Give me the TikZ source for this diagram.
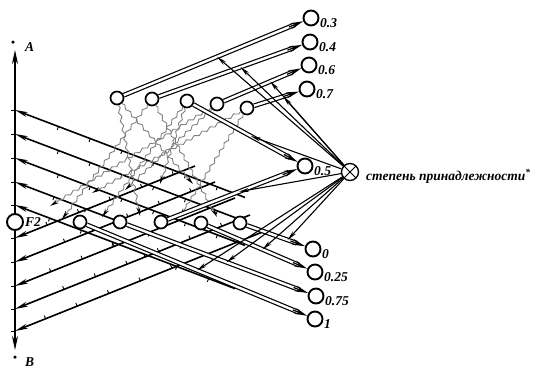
\documentclass[tikz,border=0pt]{standalone}
\usepackage{fontspec}
\setmainfont{Liberation Serif}
\usepackage{tikz}
\usetikzlibrary{arrows.meta,calc,decorations.pathmorphing,decorations.markings}

\begin{document}
\begin{tikzpicture}[x=1pt, y=-1pt, every node/.style={font=\bfseries\itshape\fontsize{13.5}{15}\selectfont}]
    \tikzstyle{cell} = [circle, draw, fill=white, line width=1.7pt, minimum size=13pt, inner sep=0pt, path picture={\fill (path picture bounding box.center) circle (1pt);}]
    \tikzstyle{value} = [circle, draw, fill=white, line width=1.9pt, minimum size=15pt, inner sep=0pt]
    \tikzstyle{tag} = [anchor=west, inner sep=0pt]
    \tikzstyle{pipe} = [draw, double, double distance=2.4pt, line width=1.2pt, shorten >=9pt]
    \tikzstyle{pipetip} = [draw, line width=1.2pt, -{Stealth[length=13pt, width=6pt]}]
    \tikzstyle{ray} = [draw, line width=1.1pt, -{Stealth[length=10pt, width=4pt]}]
    \tikzstyle{wave} = [draw=black!50, line width=0.9pt, decorate, decoration={snake, amplitude=1.3pt, segment length=9pt, post length=9pt}, -{Stealth[black, length=9pt, width=4pt]}]
    \tikzstyle{hatchlow} = [draw, line width=1.6pt, -{Stealth[length=13pt, width=5pt]}, postaction={decorate, decoration={markings, mark=between positions 0.12 and 0.9 step 34pt with {\draw[-, line width=0.9pt] (0,0) -- (0,3.5pt);}}}]
    \tikzstyle{hatchhigh} = [draw, line width=1.6pt, -{Stealth[length=13pt, width=5pt]}, postaction={decorate, decoration={markings, mark=between positions 0.12 and 0.9 step 34pt with {\draw[-, line width=0.9pt] (0,0) -- (0,-3.5pt);}}}]
    \useasboundingbox (0,0) rectangle (540,370);

    \coordinate (top) at (15,50);
    \coordinate (bottom) at (15,350);
    \draw[line width=1.6pt, {Stealth[length=14pt, width=6pt]}-{Stealth[length=14pt, width=6pt]}] (bottom) -- (top);
    \node[circle, fill, inner sep=0pt, minimum size=3.5pt] (adot) at (13,42) {};
    \node[tag] (alab) at (25,47) {A};
    \node[circle, fill, inner sep=0pt, minimum size=3.5pt] (bdot) at (15,357) {};
    \node[tag] (blab) at (25,362) {B};

    \foreach \y/\xe [count=\i] in {110/245,134/245,158/245,182/240,205/235} {
        \coordinate (ua\i) at (15,\y);
        \coordinate (ue\i) at (\xe,{\y+0.38*(\xe-15)});
        \draw[hatchlow] (ue\i) -- (ua\i);
        \draw[line width=0.9pt] (11,\y) -- (15,\y);
    }
    \foreach \y/\xe [count=\i] in {238/195,262/215,286/235,309/250,331/265} {
        \coordinate (la\i) at (15,\y);
        \coordinate (le\i) at (\xe,{\y-0.4*(\xe-15)});
        \draw[hatchhigh] (le\i) -- (la\i);
        \draw[line width=0.9pt] (11,\y) -- (15,\y);
    }

    \node[circle, draw, fill=white, line width=1.9pt, minimum size=16pt, inner sep=0pt, path picture={\fill (path picture bounding box.center) circle (1pt);}] (f2) at (15,222) {};
    \node[tag] (f2lab) at (25,222) {F2};

    \foreach \x/\y [count=\i] in {117/98,152/99,187/101,217/104,247/108}
        \node[cell] (t\i) at (\x,\y) {};
    \foreach \x/\y [count=\i] in {80/222,120/222,161/222,201/223,240/223}
        \node[cell] (b\i) at (\x,\y) {};

    \foreach \name/\x/\y/\txt in {v03/311/18/0.3, v04/310/42/0.4, v06/309/65/0.6, v07/307/89/0.7, v05/305/166/0.5, v0/313/249/0, v025/315/272/0.25, v075/316/296/0.75, v1/315/319/1}
        \node[value, label={[tag, xshift=0.5pt, yshift=-5pt]east:\txt}] (\name) at (\x,\y) {};

    \node[circle, draw, fill=white, line width=1.3pt, minimum size=17pt, inner sep=0pt, path picture={\draw[line width=0.9pt] (path picture bounding box.north west) -- (path picture bounding box.south east) (path picture bounding box.north east) -- (path picture bounding box.south west);}] (mu) at (350,172) {};
    \node[tag] (mulab) at (366,176) {степень принадлежности\textsuperscript{*}};

    \foreach \x/\y/\s [count=\i] in {140/216/t1, 193/184/t1, 62/219/t2, 217/217/t2, 102/217/t3, 160/184/t3, 50/206/t4, 125/190/t4, 92/193/t5, 180/217/t5} {
        \coordinate (w\i) at (\x,\y);
        \draw[wave] (\s) -- (w\i);
    }

    \foreach \s/\t in {t1/v03, t2/v04, t3/v05, t4/v06, t5/v07, b1/v1, b2/v075, b3/v05, b4/v025, b5/v0} {
        \draw[pipe] (\s) -- (\t);
        \draw[pipetip] ($(\t)!24pt!(\s)$) -- (\t);
    }

    \foreach \s/\t/\p [count=\i] in {t1/v03/0.52, t2/v04/0.57, t3/v05/0.55, t4/v06/0.6, t5/v07/0.65, b3/v05/0.55, b5/v0/0.7, b4/v025/0.55, b2/v075/0.55, b1/v1/0.5} {
        \path (\s) -- (\t) coordinate[pos=\p] (r\i);
        \draw[ray] (mu) -- (r\i);
    }
\end{tikzpicture}
\end{document}
